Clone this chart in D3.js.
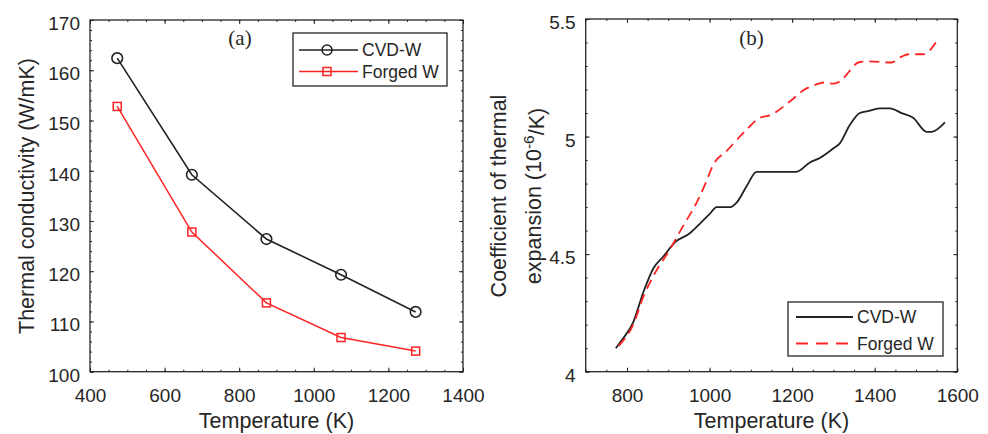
<!DOCTYPE html>
<html>
<head>
<meta charset="utf-8">
<script src="https://cdn.jsdelivr.net/npm/d3@7"></script>
<style>
  body { margin: 0; background: #fff; }
  svg text { font-family: "Liberation Sans", Arial, sans-serif; fill: #262626; }
</style>
</head>
<body>
<svg id="chart" width="988" height="434"></svg>
<script>
// (a) thermal conductivity
const condTemps = [473, 673, 873, 1073, 1273];
const condCvd = [162.4, 139.2, 126.4, 119.3, 111.9];
const condForged = [152.8, 127.8, 113.7, 106.8, 104.1];
const condXTicks = [400, 600, 800, 1000, 1200, 1400];
const condYTicks = [100, 110, 120, 130, 140, 150, 160, 170];

// (b) coefficient of thermal expansion
const cteCvdTemps = [773, 790, 815, 840, 864, 888, 916, 953, 977, 1000, 1017, 1050, 1066, 1090, 1114,
  1150, 1210, 1243, 1268, 1300, 1315, 1340, 1364, 1389, 1413, 1437, 1465, 1493, 1526, 1538, 1570];
const cteCvdValues = [4.10, 4.14, 4.21, 4.34, 4.44, 4.49, 4.55, 4.59, 4.63, 4.67, 4.70, 4.70, 4.72, 4.79, 4.85,
  4.85, 4.85, 4.89, 4.91, 4.95, 4.97, 5.05, 5.10, 5.11, 5.12, 5.12, 5.10, 5.08, 5.02, 5.02, 5.06];
const cteForgedTemps = [780, 815, 840, 868, 904, 936, 969, 990, 1009, 1042, 1090, 1122, 1146, 1195, 1230,
  1256, 1277, 1300, 1316, 1340, 1360, 1385, 1441, 1465, 1481, 1518, 1548];
const cteForgedValues = [4.11, 4.20, 4.32, 4.42, 4.52, 4.62, 4.72, 4.80, 4.88, 4.94, 5.03, 5.08, 5.09, 5.15, 5.20,
  5.22, 5.23, 5.225, 5.235, 5.28, 5.315, 5.32, 5.315, 5.34, 5.35, 5.35, 5.40];
const cteXTicks = [800, 1000, 1200, 1400, 1600];
const cteYTicks = [4, 4.5, 5, 5.5];

const seriesNames = ["CVD-W", "Forged W"];

const INK = "#262626";
const BLACK = "#222";
const RED = "#ff2424";

const svg = d3.select("#chart");

function drawFrame(g, x, y, opt) {
    const [left, right] = x.range();
    const [bottom, top] = y.range();

    const styleAxis = (sel) => {
        sel.attr("font-size", 19).attr("font-family", null).attr("color", INK);
        sel.select(".domain").remove();
    };

    // major ticks with labels
    g.append("g").attr("transform", `translate(0,${bottom})`)
        .call(d3.axisBottom(x).tickValues(opt.xTicks).tickSize(-4).tickPadding(17).tickFormat(String))
        .call(styleAxis);
    g.append("g").attr("transform", `translate(${left},0)`)
        .call(d3.axisLeft(y).tickValues(opt.yTicks).tickSize(-4).tickPadding(10).tickFormat(String))
        .call(styleAxis)
        .selectAll("text").attr("dy", "0.5em");
    // mirrored ticks on top and right
    g.append("g").attr("transform", `translate(0,${top})`)
        .call(d3.axisTop(x).tickValues(opt.xTicks).tickSize(-4).tickFormat(""))
        .call(styleAxis);
    g.append("g").attr("transform", `translate(${right},0)`)
        .call(d3.axisRight(y).tickValues(opt.yTicks).tickSize(-4).tickFormat(""))
        .call(styleAxis);

    // minor ticks
    const xd = x.domain(), yd = y.domain();
    const xMinor = d3.range(xd[0], xd[1] + 1e-9, opt.xMinor);
    const yMinor = d3.range(yd[0], yd[1] + 1e-9, opt.yMinor);
    [[d3.axisBottom(x), bottom, xMinor], [d3.axisTop(x), top, xMinor]].forEach(([ax, pos, vals]) => {
        g.append("g").attr("transform", `translate(0,${pos})`)
            .call(ax.tickValues(vals).tickSize(-2).tickFormat(""))
            .call(styleAxis);
    });
    [[d3.axisLeft(y), left, yMinor], [d3.axisRight(y), right, yMinor]].forEach(([ax, pos, vals]) => {
        g.append("g").attr("transform", `translate(${pos},0)`)
            .call(ax.tickValues(vals).tickSize(-2).tickFormat(""))
            .call(styleAxis);
    });

    g.append("rect")
        .attr("x", left).attr("y", top)
        .attr("width", right - left).attr("height", bottom - top)
        .attr("fill", "none").attr("stroke", INK).attr("stroke-width", 1.3);

    g.append("text")
        .attr("x", (left + right) / 2).attr("y", 428)
        .attr("text-anchor", "middle").attr("font-size", 21.5)
        .text("Temperature (K)");

    g.append("text")
        .attr("x", opt.tagX).attr("y", 45)
        .attr("text-anchor", "middle").attr("font-size", 21)
        .style("font-family", "'Liberation Serif', 'Times New Roman', serif")
        .text(opt.tag);
}

// ---------- panel (a) ----------
const xa = d3.scaleLinear().domain([400, 1400]).range([90, 463]);
const ya = d3.scaleLinear().domain([100, 170]).range([371.7, 20]);
const ga = svg.append("g");
drawFrame(ga, xa, ya, { xTicks: condXTicks, yTicks: condYTicks, xMinor: 50, yMinor: 2, tag: "(a)", tagX: 240 });

ga.append("text")
    .attr("transform", "translate(34,196) rotate(-90)")
    .attr("text-anchor", "middle").attr("font-size", 21.5)
    .text("Thermal conductivity (W/mK)");

const lineA = d3.line().x(d => xa(d[0])).y(d => ya(d[1]));
const cvdA = d3.zip(condTemps, condCvd);
const forgedA = d3.zip(condTemps, condForged);

ga.append("path").datum(cvdA).attr("d", lineA)
    .attr("fill", "none").attr("stroke", BLACK).attr("stroke-width", 1.6);
ga.append("path").datum(forgedA).attr("d", lineA)
    .attr("fill", "none").attr("stroke", RED).attr("stroke-width", 1.5);

ga.selectAll(".cvd-pt").data(cvdA).join("circle")
    .attr("cx", d => xa(d[0])).attr("cy", d => ya(d[1])).attr("r", 5.3)
    .attr("fill", "none").attr("stroke", BLACK).attr("stroke-width", 1.6);
ga.selectAll(".forged-pt").data(forgedA).join("rect")
    .attr("x", d => xa(d[0]) - 4).attr("y", d => ya(d[1]) - 4)
    .attr("width", 8).attr("height", 8)
    .attr("fill", "none").attr("stroke", RED).attr("stroke-width", 1.5);

// legend (a)
const legA = ga.append("g");
legA.append("rect").attr("x", 293).attr("y", 33).attr("width", 154).attr("height", 53)
    .attr("fill", "#fff").attr("stroke", INK).attr("stroke-width", 1.3);
[[50, BLACK, "circle"], [71.5, RED, "square"]].forEach(([ly, col, shape], i) => {
    legA.append("line").attr("x1", 299).attr("x2", 358).attr("y1", ly).attr("y2", ly)
        .attr("stroke", col).attr("stroke-width", 1.5);
    if (shape === "circle") {
        legA.append("circle").attr("cx", 327).attr("cy", ly).attr("r", 5)
            .attr("fill", "none").attr("stroke", col).attr("stroke-width", 1.5);
    } else {
        legA.append("rect").attr("x", 323).attr("y", ly - 4).attr("width", 8).attr("height", 8)
            .attr("fill", "none").attr("stroke", col).attr("stroke-width", 1.5);
    }
    legA.append("text").attr("x", 362).attr("y", ly).attr("dy", "0.36em")
        .attr("font-size", 17.5).text(seriesNames[i]);
});

// ---------- panel (b) ----------
const xb = d3.scaleLinear().domain([700, 1600]).range([585.7, 957.3]);
const yb = d3.scaleLinear().domain([4, 5.5]).range([371.7, 19]);
const gb = svg.append("g");
drawFrame(gb, xb, yb, { xTicks: cteXTicks, yTicks: cteYTicks, xMinor: 50, yMinor: 0.1, tag: "(b)", tagX: 751.5 });

gb.append("text")
    .attr("transform", "translate(506,196) rotate(-90)")
    .attr("text-anchor", "middle").attr("font-size", 21.5)
    .text("Coefficient of thermal");
const lab2 = gb.append("text")
    .attr("transform", "translate(541,196) rotate(-90)")
    .attr("text-anchor", "middle").attr("font-size", 21.5);
lab2.append("tspan").text("expansion (10");
lab2.append("tspan").attr("dy", "-0.45em").attr("font-size", 15.5).text("-6");
lab2.append("tspan").attr("dy", "0.45em").text("/K)");

const lineB = d3.line().curve(d3.curveMonotoneX).x(d => xb(d[0])).y(d => yb(d[1]));
gb.append("path").datum(d3.zip(cteCvdTemps, cteCvdValues)).attr("d", lineB)
    .attr("fill", "none").attr("stroke", BLACK).attr("stroke-width", 1.8);
gb.append("path").datum(d3.zip(cteForgedTemps, cteForgedValues)).attr("d", lineB)
    .attr("fill", "none").attr("stroke", RED).attr("stroke-width", 1.8)
    .attr("stroke-dasharray", "10,6");

// legend (b)
const legB = gb.append("g");
legB.append("rect").attr("x", 788).attr("y", 302).attr("width", 155).attr("height", 54)
    .attr("fill", "#fff").attr("stroke", INK).attr("stroke-width", 1.3);
[[317, BLACK, null], [343.5, RED, "12,8"]].forEach(([ly, col, dash], i) => {
    legB.append("line").attr("x1", 796).attr("x2", 853).attr("y1", ly).attr("y2", ly)
        .attr("stroke", col).attr("stroke-width", 1.8).attr("stroke-dasharray", dash);
    legB.append("text").attr("x", 857).attr("y", ly).attr("dy", "0.36em")
        .attr("font-size", 17.5).text(seriesNames[i]);
});
</script>
</body>
</html>
